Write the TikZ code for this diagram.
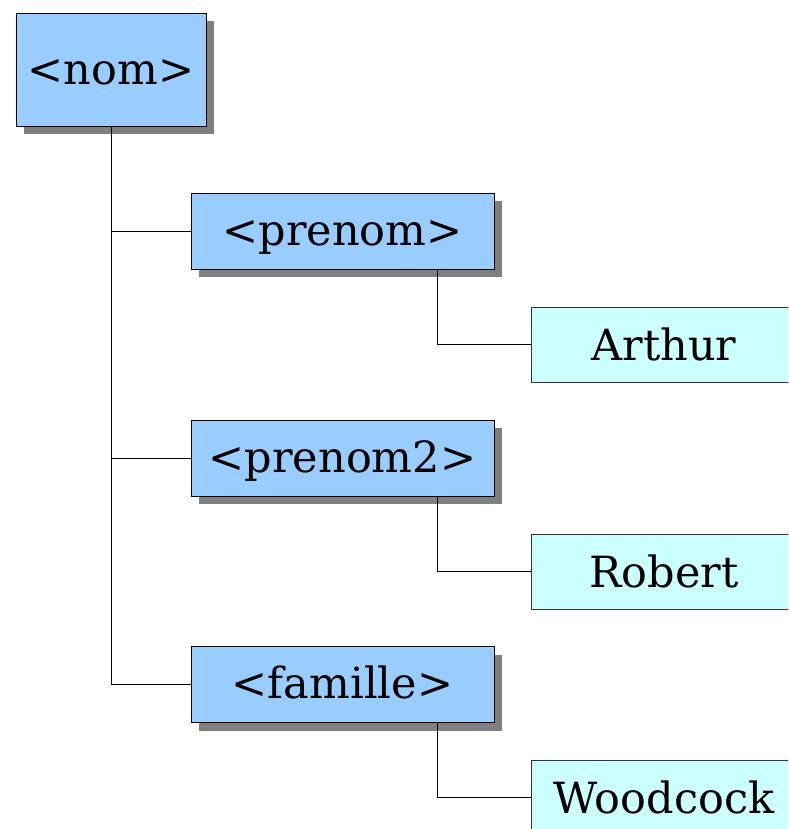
\documentclass[tikz,border=0pt]{standalone}
\usepackage{fontspec}
\setmainfont{DejaVu Serif}
\usetikzlibrary{shadows}

\begin{document}
\begin{tikzpicture}
[
x=1pt,y=-1pt,
tag/.style={draw=black,fill={rgb,255:red,153;green,204;blue,255},line width=0.8pt,
inner sep=0pt,minimum width=303pt,text height=52pt,text depth=24pt,
font=\fontsize{43}{50}\selectfont,
drop shadow={shadow xshift=8pt,shadow yshift=-8pt,fill=black!50,opacity=1}},
val/.style={draw=black!80,fill={rgb,255:red,204;green,255;blue,255},line width=0.8pt,
inner sep=0pt,minimum width=266pt,text height=53pt,text depth=22pt,
font=\fontsize{43}{50}\selectfont},
link/.style={line width=0.9pt,black}
]
\clip (0,0) rectangle (788,829);
\node[tag,minimum width=190pt,text height=72pt,text depth=41pt] (nom) at (111,69.5){<nom>};
\node[tag] (prenom) at (342.5,231){<prenom>};
\node[tag] (prenom2) at (342.5,458){<prenom2>};
\node[tag] (famille) at (342.5,684.5){<famille>};
\node[val] (arthur) at (664,344.5){Arthur};
\node[val] (robert) at (664,571.5){Robert};
\node[val] (woodcock) at (664,797.5){Woodcock};
\draw[link] (nom.south) |- (prenom.west);
\draw[link] (nom.south) |- (prenom2.west);
\draw[link] (nom.south) |- (famille.west);
\draw[link] ([xshift=94.5pt]prenom.south) |- (arthur.west);
\draw[link] ([xshift=94.5pt]prenom2.south) |- (robert.west);
\draw[link] ([xshift=94.5pt]famille.south) |- (woodcock.west);
\end{tikzpicture}
\end{document}
